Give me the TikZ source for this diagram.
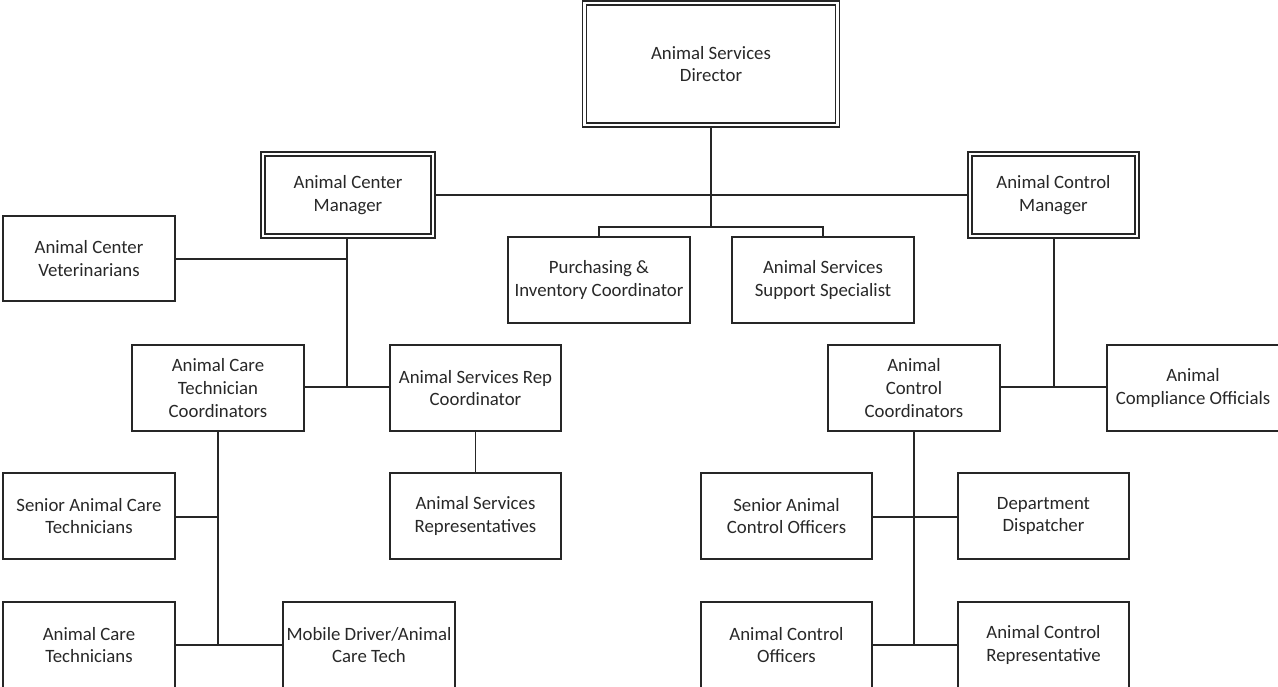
\documentclass[tikz,border=0pt]{standalone}
\usepackage{fontspec}
\setmainfont{Carlito}
\usetikzlibrary{backgrounds}
\definecolor{ink}{HTML}{262626}
\definecolor{txt}{HTML}{282828}
\tikzset{
  box/.style={draw=ink, line width=1.2pt, fill=white, rectangle, align=center, inner sep=0pt,
    text=txt, font=\fontsize{18.8}{22.9}\selectfont},
  dbox/.style={box, line width=1.1pt, double=white, double distance=2.9pt},
  conn/.style={draw=ink, line width=1.2pt}
}
\begin{document}
\begin{tikzpicture}[x=1pt,y=-1pt]
\useasboundingbox (0,0) rectangle (1278,687);
% double-bordered managers
\node[dbox, minimum width=253pt, minimum height=122pt] (dir) at (711,64) {Animal Services\\Director};
\node[dbox, minimum width=170pt, minimum height=82pt] (acm) at (348,195) {Animal Center\\Manager};
\node[dbox, minimum width=167pt, minimum height=82pt] (aconm) at (1053.5,195) {Animal Control\\Manager};
% single boxes
\node[box, minimum width=172pt, minimum height=85pt] (vet) at (89,258.5) {Animal Center\\Veterinarians};
\node[box, minimum width=182pt, minimum height=86pt] (purch) at (599,280) {Purchasing \&\\Inventory Coordinator};
\node[box, minimum width=182pt, minimum height=86pt] (supp) at (823,280) {Animal Services\\Support Specialist};
\node[box, minimum width=172pt, minimum height=86pt] (actc) at (218,388) {Animal Care\\Technician\\Coordinators};
\node[box, minimum width=171pt, minimum height=86pt] (asrc) at (475.5,388) {Animal Services Rep\\Coordinator};
\node[box, minimum width=172pt, minimum height=86pt] (sact) at (89,516) {Senior Animal Care\\Technicians};
\node[box, minimum width=171pt, minimum height=86pt] (asr) at (475.5,516) {Animal Services\\Representatives};
\node[box, minimum width=172pt, minimum height=86pt] (act) at (89,645) {Animal Care\\Technicians};
\node[box, minimum width=172pt, minimum height=86pt] (mob) at (369,645) {Mobile Driver/Animal\\Care Tech};
\node[box, minimum width=172pt, minimum height=86pt] (acc) at (914,388) {Animal\\Control\\Coordinators};
\node[box, minimum width=172pt, minimum height=86pt] (comp) at (1193,388) {Animal\\Compliance Officials};
\node[box, minimum width=171pt, minimum height=86pt] (saco) at (786.5,516) {Senior Animal\\Control Officers};
\node[box, minimum width=171pt, minimum height=86pt] (disp) at (1043.5,516) {Department\\Dispatcher};
\node[box, minimum width=171pt, minimum height=86pt] (aco) at (786.5,645) {Animal Control\\Officers};
\node[box, minimum width=171pt, minimum height=86pt] (acr) at (1043.5,645) {Animal Control\\Representative};
% junction points
\coordinate (jdir) at (711,227);
\coordinate (jacm) at (347,387);
\coordinate (jvet) at (347,259);
\coordinate (jactc1) at (218,517);
\coordinate (jactc2) at (218,645);
\coordinate (jcon) at (1054,387);
\coordinate (jacc1) at (914,517);
\coordinate (jacc2) at (914,645);
\begin{scope}[on background layer]
\draw[conn] (dir.south) -- (jdir);
\draw[conn] (purch.north) -- (purch.north |- jdir) -- (supp.north |- jdir) -- (supp.north);
\draw[conn] (acm.east) -- (aconm.west);
\draw[conn] (acm.south -| jacm) -- (jacm);
\draw[conn] (vet.east |- jvet) -- (jvet);
\draw[conn] (actc.east |- jacm) -- (asrc.west |- jacm);
\draw[conn] (asrc.south -| asr.north) -- (asr.north);
\draw[conn] (actc.south) -- (jactc2);
\draw[conn] (sact.east |- jactc1) -- (jactc1);
\draw[conn] (act.east) -- (mob.west);
\draw[conn] (aconm.south -| jcon) -- (jcon);
\draw[conn] (acc.east |- jcon) -- (comp.west |- jcon);
\draw[conn] (acc.south) -- (jacc2);
\draw[conn] (saco.east |- jacc1) -- (disp.west |- jacc1);
\draw[conn] (aco.east) -- (acr.west);
\end{scope}
\end{tikzpicture}
\end{document}
